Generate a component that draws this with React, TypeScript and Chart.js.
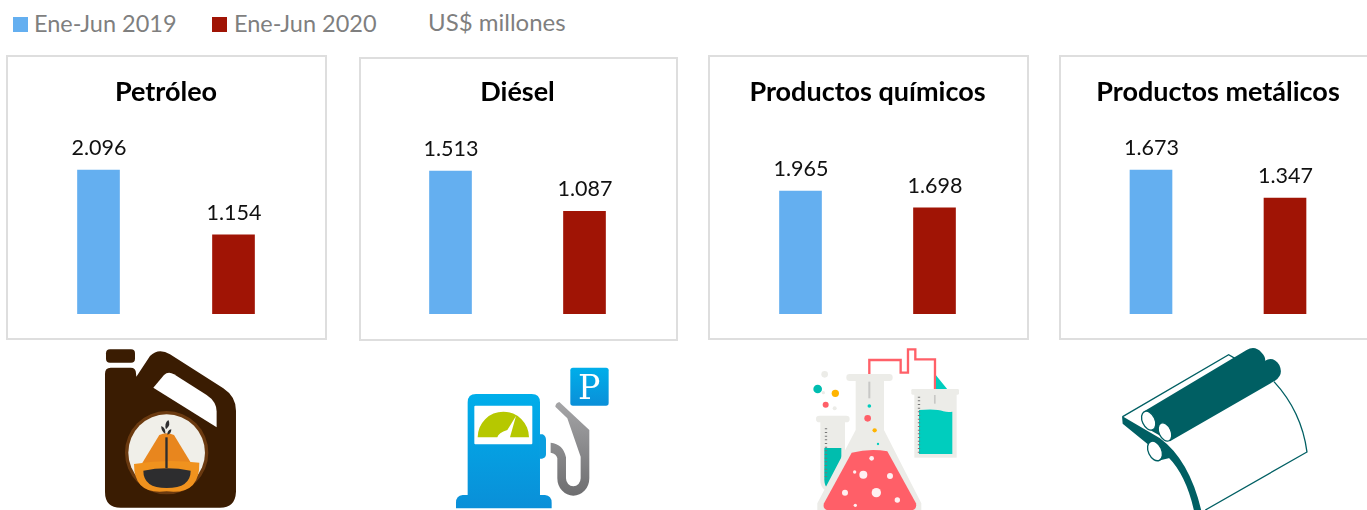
import React, { useEffect, useRef } from "react";
import { Chart, registerables } from "chart.js";

Chart.register(...registerables);

const categories = ["Ene-Jun 2019", "Ene-Jun 2020"];
const unitLabel = "US$ millones";
const titles = ["Petróleo", "Diésel", "Productos químicos", "Productos metálicos"];
const petroleo = [2096, 1154];
const diesel = [1513, 1087];
const quimicos = [1965, 1698];
const metalicos = [1673, 1347];
const panelValues = [petroleo, diesel, quimicos, metalicos];
const barColors = ["#64AFF0", "#A01405"];
const axisMax = [2911, 2116, 3195, 2323];

const FONT = "Lato, Carlito, 'Open Sans', sans-serif";

const panels = [
  { x: 6, y: 55, w: 321, h: 285, l: 25, r: 26, b: 26, tp: 21, bp: 5.6 },
  { x: 359, y: 57, w: 319, h: 284, l: 24.5, r: 26.5, b: 27, tp: 19, bp: 5.6 },
  { x: 708, y: 55, w: 321, h: 285, l: 25.5, r: 27.5, b: 26, tp: 21, bp: 5.6 },
  { x: 1059, y: 55, w: 321, h: 285, l: 25, r: 28, b: 26, tp: 21, bp: 5.6 },
];

const fmt = (v: number) => {
  const s = String(v);
  return s.length > 3 ? s.slice(0, -3) + "." + s.slice(-3) : s;
};

const valueLabels = {
  id: "valueLabels",
  afterDatasetsDraw(chart: any) {
    const { ctx } = chart;
    const meta = chart.getDatasetMeta(0);
    ctx.save();
    ctx.font = `21.5px ${FONT}`;
    ctx.fillStyle = "#111111";
    ctx.textAlign = "center";
    ctx.textBaseline = "middle";
    meta.data.forEach((bar: any, i: number) => {
      ctx.fillText(fmt(chart.data.datasets[0].data[i]), bar.x + 0.5, bar.y - 22);
    });
    ctx.restore();
  },
};

function Panel({ index }: { index: number }) {
  const ref = useRef<HTMLCanvasElement | null>(null);
  const p = panels[index];
  useEffect(() => {
    const chart = new Chart(ref.current as HTMLCanvasElement, {
      type: "bar",
      data: {
        labels: categories,
        datasets: [
          {
            data: panelValues[index],
            backgroundColor: barColors,
            barThickness: 42,
            borderWidth: 0,
          },
        ],
      },
      options: {
        responsive: false,
        animation: false,
        devicePixelRatio: 1,
        layout: { padding: { left: p.l, right: p.r, bottom: p.b, top: 0 } },
        plugins: {
          legend: { display: false },
          tooltip: { enabled: false },
          title: {
            display: true,
            text: titles[index],
            color: "#000000",
            font: { family: FONT, size: 27, weight: "bold", lineHeight: 1.2 },
            padding: { top: p.tp, bottom: p.bp },
          },
        },
        scales: {
          x: { display: false },
          y: { display: false, min: 0, max: axisMax[index] },
        },
      },
      plugins: [valueLabels],
    } as any);
    return () => chart.destroy();
  }, []);
  return (
    <div style={{ position: "absolute", left: p.x, top: p.y, width: p.w, height: p.h }}>
      <canvas ref={ref} width={p.w} height={p.h} style={{ position: "absolute", left: 0, top: 0, display: "block" }} />
      <div style={{ position: "absolute", inset: 0, border: "2px solid #DEDEDE", boxSizing: "border-box" }} />
    </div>
  );
}

const legendText: React.CSSProperties = {
  position: "absolute",
  font: `23.5px ${FONT}`,
  color: "#7F7F7F",
  whiteSpace: "nowrap",
  lineHeight: "28px",
};

function Legend() {
  return (
    <>
      <div style={{ position: "absolute", left: 13, top: 17, width: 15, height: 15, background: barColors[0] }} />
      <div style={{ ...legendText, left: 34, top: 9 }}>{categories[0]}</div>
      <div style={{ position: "absolute", left: 212, top: 17, width: 15, height: 15, background: barColors[1] }} />
      <div style={{ ...legendText, left: 234, top: 9 }}>{categories[1]}</div>
      <div style={{ ...legendText, left: 428, top: 8, fontSize: 24 }}>{unitLabel}</div>
    </>
  );
}

function Icons() {
  return (
    <svg width={1367} height={510} style={{ position: "absolute", left: 0, top: 0, pointerEvents: "none" }}>
      <defs>
        <linearGradient id="pumpBlue" x1="0" y1="0" x2="0" y2="1">
          <stop offset="0" stopColor="#00AEEA" />
          <stop offset="1" stopColor="#0A8FD8" />
        </linearGradient>
        <linearGradient id="hoseGrey" x1="0" y1="0" x2="0" y2="1">
          <stop offset="0" stopColor="#A5A5A7" />
          <stop offset="1" stopColor="#6E6E70" />
        </linearGradient>
      </defs>

      {/* oil can */}
      <g transform="translate(60,340) scale(0.3333)">
        <rect x={138} y={28} width={87} height={40} rx={12} fill="#3A1C02" />
        <path
          d="M135 102 Q135 83 152 83 L212 83 Q228 83 228 100 L229 110 L270 48 Q296 22 330 43 L490 145 Q528 170 528 212 L528 455 Q526 503 480 503 L182 503 Q135 503 135 455 Z"
          fill="#3A1C02"
        />
        <path d="M280 143 L312 105 Q325 93 342 103 L440 165 Q470 185 470 215 L470 262 Z" fill="#FFFFFF" />
        <circle cx={320} cy={338} r={125} fill="#6B3A10" />
        <circle cx={320} cy={338} r={115} fill="#F0EFE9" />
        <path d="M245 372 L298 285 Q320 274 342 285 L395 372 Z" fill="#E8861E" />
        <path d="M222 372 Q320 356 418 368 Q420 466 320 454 Q222 466 222 372 Z" fill="#F0921E" />
        <path d="M250 392 Q320 378 392 392 Q392 444 320 444 Q250 444 250 392 Z" fill="#2D2D2F" />
        <rect x={316} y={292} width={7} height={92} fill="#2D2D2F" />
        <path d="M318 268 Q312 250 325 240 Q334 254 318 268 Z M316 282 Q302 272 304 258 Q318 264 316 282 Z M322 284 Q322 270 334 268 Q334 282 322 284 Z" fill="#2D2D2F" />
      </g>

      {/* fuel pump */}
      <g transform="translate(430,350) scale(0.3333)">
        <rect x={421} y={53} width={115} height={114} rx={8} fill="url(#pumpBlue)" />
        <text x={478} y={147} textAnchor="middle" fontFamily="'DejaVu Serif', serif" fontSize={100} fill="#FFFFFF">P</text>
        <path d="M330 253 L338 253 Q348 258 348 270 L348 312 Q348 324 336 326 L330 326 Z" fill="#0A9EDF" />
        <path d="M113 157 Q113 132 138 132 L305 132 Q330 132 330 157 L330 435 L345 435 Q365 437 365 458 L365 475 L78 475 L78 458 Q78 437 98 435 L113 435 Z" fill="url(#pumpBlue)" />
        <rect x={133} y={167} width={174} height={116} rx={3} fill="#FFFFFF" />
        <path d="M143 262 A77 77 0 0 1 297 262 L240 262 L258 198 L232 240 Q205 248 202 262 Z" fill="#B6C800" />
        <path
          d="M376 170 Q376 160 388 156 L478 240 L478 385 A48 52 0 0 1 382 385 L382 325 Q380 312 362 308 L362 278 Q400 282 408 322 L408 385 A22 24 0 0 0 452 385 L452 320 L412 205 Z"
          fill="url(#hoseGrey)"
        />
      </g>

      {/* laboratory flasks */}
      <g transform="translate(790,340) scale(0.3333)">
        <path d="M238 102 L238 60 L332 60 L332 98 L354 98 L354 28 L376 28 L376 58 L435 58 L435 148" fill="none" stroke="#FF6068" strokeWidth={7} />
        <path d="M438 106 L472 148 L438 148 Z" fill="#00CDBE" />
        <rect x={364} y={147} width={143} height={17} rx={4} fill="#ECECE8" />
        <rect x={373} y={160} width={127} height={193} fill="#ECECE8" />
        <path d="M387 210 Q440 205 460 214 Q475 218 487 215 L487 342 L387 342 Z" fill="#00CDBE" />
        <path d="M387 170 V340" stroke="#777" strokeWidth={7} strokeDasharray="3 8" fill="none" />
        <rect x={432} y={165} width={5} height={26} fill="#C8C8C6" />

        <rect x={78} y={227} width={101} height={20} rx={10} fill="#ECECE8" />
        <path d="M91 245 L165 245 L165 420 Q165 455 128 455 Q91 455 91 420 Z" fill="#ECECE8" />
        <path d="M103 324 L154 324 L154 380 L112 445 Q103 435 103 420 Z" fill="#00BDAE" />
        <path d="M108 265 V420" stroke="#777" strokeWidth={7} strokeDasharray="3 8" fill="none" />

        <rect x={169} y={102} width={139} height={21} rx={10} fill="#ECECE8" />
        <path d="M197 120 L282 120 L282 270 L394 490 L394 510 L82 510 L82 490 L197 270 Z" fill="#ECECE8" />
        <path d="M185 338 Q240 325 292 334 L378 490 Q382 510 360 512 L120 512 Q96 510 102 490 Z" fill="#FF5F68" />
        <rect x={235} y={125} width={6} height={50} fill="#C8C8C6" />
        <circle cx={238} cy={198} r={5.5} fill="#00CDBE" />
        <circle cx={233} cy={235} r={10} fill="#FF5F68" />
        <circle cx={254} cy={271} r={6.5} fill="#FFB400" />
        <circle cx={264} cy={312} r={3.5} fill="#00CDBE" />
        <circle cx={104} cy={103} r={10} fill="#ECECE8" />
        <circle cx={83} cy={147} r={13} fill="#00BDB0" />
        <circle cx={136} cy={160} r={11} fill="#FFB400" />
        <circle cx={100} cy={158} r={5} fill="#ECECE8" />
        <circle cx={107} cy={194} r={9} fill="#FF5F68" />
        <circle cx={134} cy={205} r={6} fill="#ECECE8" />
        {[[245, 355, 7], [194, 396, 5], [220, 404, 12], [300, 408, 9], [165, 458, 9], [259, 458, 14], [322, 480, 8], [196, 496, 5]].map(([x, y, r], i) => (
          <circle key={i} cx={x} cy={y} r={r} fill="#FFFFFF" opacity={0.9} />
        ))}
      </g>

      {/* metal rolls */}
      <g transform="translate(1100,340) scale(0.3333)" fill="#005F63" stroke="none">
        <path d="M68 230 L386 44 L410 58" fill="none" stroke="#005F63" strokeWidth={4} />
        <path d="M66 228 L180 295 Q268 360 304 512 L282 512 Q258 405 205 352 L150 318 L68 251 Z" />
        <path d="M130 215 L440 30 Q465 15 485 38 Q498 52 495 62 Q520 48 538 75 Q552 105 525 122 L210 304 L150 270 Z" />
        <path d="M170 302 L218 332 L218 352 L175 362 Z" />
        <ellipse cx={146} cy={242} rx={19} ry={30} transform="rotate(-25 146 242)" fill="#FFFFFF" stroke="#005F63" strokeWidth={4} />
        <ellipse cx={195} cy={276} rx={18} ry={29} transform="rotate(-25 195 276)" fill="#FFFFFF" stroke="#005F63" strokeWidth={4} />
        <ellipse cx={165} cy={333} rx={20} ry={31} transform="rotate(-25 165 333)" fill="#FFFFFF" stroke="#005F63" strokeWidth={4} />
        <path d="M522 125 Q605 215 621 336 L316 510" fill="none" stroke="#005F63" strokeWidth={4} />
      </g>
    </svg>
  );
}

export default function App() {
  return (
    <div style={{ position: "fixed", left: 0, top: 0, width: 1367, height: 510, overflow: "hidden", background: "#FFFFFF" }}>
      <Legend />
      {panels.map((_, i) => (
        <Panel key={i} index={i} />
      ))}
      <Icons />
    </div>
  );
}
